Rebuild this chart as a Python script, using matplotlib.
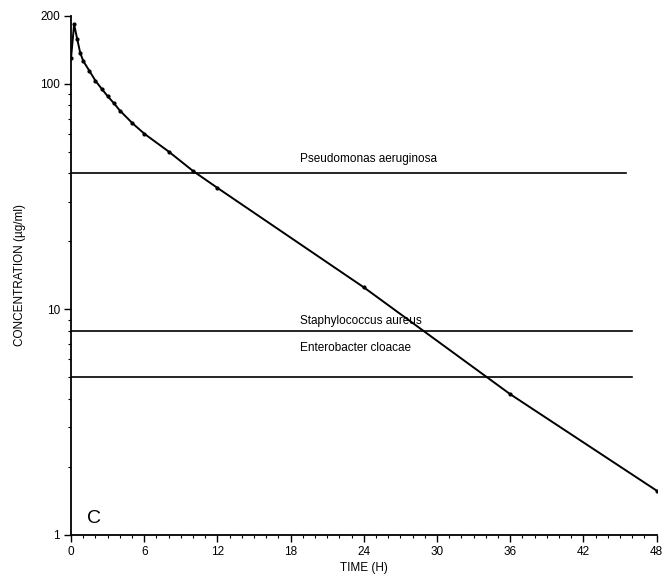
import numpy as np
import matplotlib
matplotlib.use("Agg")
import matplotlib.pyplot as plt
from matplotlib.ticker import FixedLocator, MultipleLocator, LogLocator, NullFormatter

plt.rcParams['font.family'] = ['Liberation Sans', 'DejaVu Sans']

# serum concentration curve (hours, ug/ml)
time_h = [0, 0.25, 0.5, 0.75, 1.0, 1.5, 2, 2.5, 3, 3.5, 4, 5, 6, 8, 10, 12, 24, 36, 48]
conc = [130, 183, 158, 137, 126, 114, 103, 95, 88, 82, 76, 67, 60, 50, 41, 34.5, 12.5, 4.2, 1.57]

# MIC levels of the organisms
organisms = ["Pseudomonas aeruginosa", "Staphylococcus aureus", "Enterobacter cloacae"]
mic = [40, 8, 5]
mic_end = [45.5, 46, 46]
label_y = [46.5, 8.9, 6.7]

xticks = [0, 6, 12, 18, 24, 30, 36, 42, 48]
yticks = [1, 10, 100, 200]

fig = plt.figure(figsize=(6.64, 5.82), dpi=100)
ax = fig.add_axes([0.107, 0.081, 0.882, 0.892])

ax.plot(time_h, conc, color="black", lw=1.4, marker="o", markersize=2)

for name, m, xe, ly in zip(organisms, mic, mic_end, label_y):
    ax.plot([0, xe], [m, m], color="black", lw=1.2)
    ax.text(18.8, ly, name, fontsize=8.5, va="center", ha="left")

ax.text(1.3, 1.18, "C", fontsize=14, va="center", ha="left")

ax.set_yscale("log")
ax.set_xlim(0, 48)
ax.set_ylim(1, 200)
ax.xaxis.set_major_locator(FixedLocator(xticks))
ax.xaxis.set_minor_locator(MultipleLocator(1))
ax.yaxis.set_major_locator(FixedLocator(yticks))
ax.yaxis.set_minor_locator(LogLocator(base=10, subs=np.arange(2, 10)))
ax.yaxis.set_minor_formatter(NullFormatter())
ax.set_xticklabels([str(t) for t in xticks])
ax.set_yticklabels([str(t) for t in yticks])

ax.spines["top"].set_visible(False)
ax.spines["right"].set_visible(False)
ax.spines["left"].set_linewidth(1.3)
ax.spines["bottom"].set_linewidth(1.3)
ax.tick_params(axis="both", which="major", direction="out", length=5, width=1, labelsize=8.5, pad=3)
ax.tick_params(axis="both", which="minor", direction="out", length=2.5, width=0.8)

ax.set_xlabel("TIME (H)", fontsize=8.5, labelpad=3)
ax.set_ylabel("CONCENTRATION (\u00b5g/ml)", fontsize=8.5, labelpad=10)

fig.savefig("out.png", dpi=100)
